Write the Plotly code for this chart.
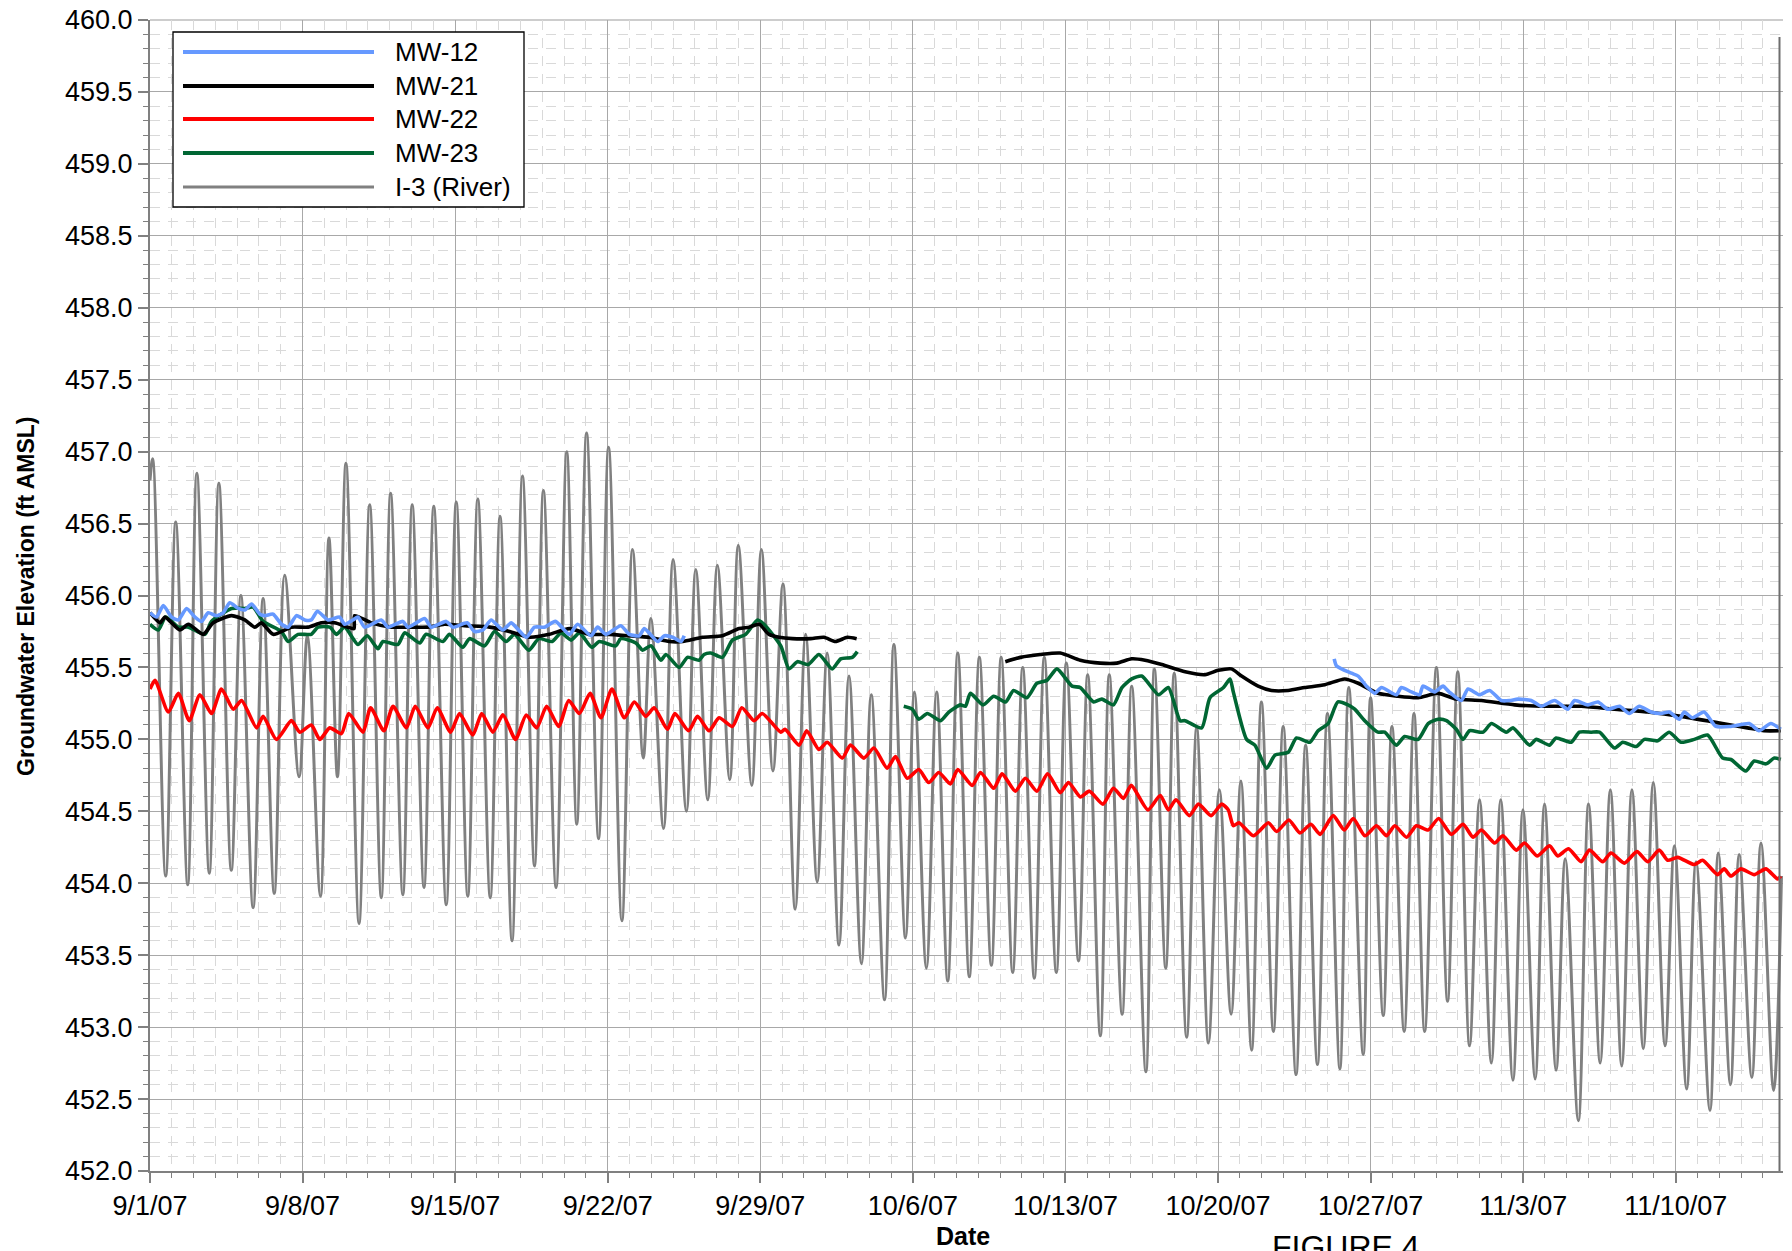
import plotly.graph_objects as go
from datetime import datetime, timedelta

BASE = datetime(2007, 9, 1)

# ---------------- data (days after 9/1/07, elevation ft AMSL) ----------------
river_day = [0.00, 0.12, 0.72, 1.18, 1.73, 2.15, 2.72, 3.16, 3.73, 4.17, 4.73, 5.19, 5.70, 6.18, 6.84, 7.22,
             7.82, 8.21, 8.60, 8.99, 9.59, 10.08, 10.61, 11.04, 11.60, 12.03, 12.57, 13.02, 13.59, 14.05,
             14.58, 15.04, 15.61, 16.06, 16.61, 17.09, 17.64, 18.05, 18.63, 19.12, 19.58, 20.03, 20.58,
             21.04, 21.65, 22.14, 22.63, 22.98, 23.56, 24.00, 24.61, 25.04, 25.59, 26.03, 26.60, 26.99,
             27.61, 28.05, 28.58, 29.04, 29.60, 30.08, 30.61, 31.07, 31.61, 32.07, 32.64, 33.09, 33.70,
             34.13, 34.66, 35.07, 35.62, 36.09, 36.60, 37.06, 37.59, 38.05, 38.60, 39.05, 39.58, 40.04,
             40.57, 41.03, 41.58, 42.04, 42.60, 43.02, 43.60, 44.01, 44.60, 45.04, 45.69, 46.08, 46.60,
             46.99, 47.56, 48.02, 48.56, 49.06, 49.60, 50.05, 50.54, 50.99, 51.54, 51.99, 52.58, 53.02,
             53.56, 54.02, 54.59, 55.00, 55.66, 56.00, 56.58, 56.98, 57.54, 57.99, 58.48, 59.02, 59.53,
             60.00, 60.54, 61.00, 61.54, 61.97, 62.53, 62.99, 63.55, 63.98, 64.51, 64.93, 65.53, 66.00,
             66.53, 67.00, 67.52, 67.99, 68.51, 68.97, 69.51, 69.94, 70.50, 70.93, 71.57, 71.95, 72.51,
             72.91, 73.49, 73.91, 74.49, 74.85]
river_elev = [456.80, 456.95, 454.05, 456.51, 453.99, 456.85, 454.07, 456.78, 454.09, 456.00, 453.83, 455.98,
              453.93, 456.14, 454.74, 455.72, 453.91, 456.40, 454.74, 456.92, 453.72, 456.63, 453.90, 456.71,
              453.92, 456.63, 453.97, 456.62, 453.85, 456.65, 453.91, 456.67, 453.90, 456.55, 453.60, 456.83,
              454.12, 456.73, 453.97, 457.00, 454.41, 457.13, 454.31, 457.03, 453.74, 456.32, 454.87, 455.84,
              454.38, 456.25, 454.50, 456.18, 454.58, 456.21, 454.72, 456.35, 454.68, 456.32, 454.78, 456.08,
              453.82, 455.73, 454.01, 455.60, 453.57, 455.44, 453.44, 455.31, 453.19, 455.66, 453.62, 455.33,
              453.41, 455.33, 453.32, 455.60, 453.35, 455.57, 453.43, 455.57, 453.38, 455.50, 453.34, 455.57,
              453.38, 455.53, 453.46, 455.45, 452.94, 455.45, 453.09, 455.37, 452.69, 455.49, 453.41, 455.46,
              452.93, 455.08, 452.89, 454.65, 453.09, 454.71, 452.84, 455.26, 452.97, 455.09, 452.67, 454.96,
              452.74, 455.18, 452.71, 455.36, 452.81, 455.29, 453.08, 455.09, 452.97, 455.18, 452.97, 455.50,
              453.18, 455.47, 452.87, 454.58, 452.75, 454.58, 452.63, 454.51, 452.64, 454.55, 452.70, 454.17,
              452.35, 454.55, 452.75, 454.65, 452.73, 454.65, 452.85, 454.70, 452.87, 454.26, 452.57, 454.15,
              452.42, 454.21, 452.60, 454.20, 452.65, 454.28, 452.56, 454.05]

mw12_day = [0.00, 0.30, 0.61, 0.99, 1.30, 1.68, 2.06, 2.37, 2.67, 3.05, 3.36, 3.66, 4.05, 4.35, 4.66, 5.04, 5.27,
            5.65, 6.03, 6.34, 6.72, 7.10, 7.40, 7.68, 8.17, 8.70, 8.93, 9.31, 9.54, 9.85, 10.61, 10.92, 11.60,
            11.83, 12.60, 12.90, 13.59, 13.90, 14.55, 14.89, 15.27, 15.65, 16.19, 16.57, 17.26, 17.64, 18.10,
            18.60, 19.24, 19.62, 20.23, 20.54, 20.92, 21.60, 21.99, 22.45, 22.68, 23.29, 23.60, 23.98, 24.36,
            24.51, None, 54.33, 54.44, 55.12, 55.43, 55.81, 56.19, 56.50, 57.18, 57.41, 57.87, 58.25, 58.40,
            58.94, 59.32, 59.60, 60.16, 60.47, 61.00, 61.46, 61.99, 62.38, 62.76, 63.37, 63.83, 64.44, 65.05,
            65.36, 65.97, 66.43, 66.88, 67.42, 67.87, 68.33, 68.86, 69.32, 69.70, 70.16, 70.39, 70.77, 71.30,
            71.84, 72.53, 73.37, 73.82, 74.36, 74.82]
mw12_elev = [455.88, 455.85, 455.93, 455.85, 455.83, 455.91, 455.85, 455.82, 455.88, 455.86, 455.88, 455.95,
             455.91, 455.90, 455.94, 455.87, 455.86, 455.87, 455.80, 455.78, 455.86, 455.83, 455.83, 455.89,
             455.83, 455.85, 455.80, 455.83, 455.85, 455.78, 455.83, 455.78, 455.82, 455.78, 455.84, 455.78,
             455.82, 455.78, 455.81, 455.75, 455.76, 455.83, 455.76, 455.81, 455.71, 455.78, 455.78, 455.82,
             455.73, 455.80, 455.72, 455.78, 455.73, 455.79, 455.73, 455.72, 455.77, 455.68, 455.72, 455.71,
             455.68, 455.72, None, 455.56, 455.51, 455.46, 455.44, 455.37, 455.32, 455.36, 455.31, 455.36,
             455.33, 455.31, 455.37, 455.33, 455.37, 455.33, 455.27, 455.35, 455.31, 455.34, 455.27, 455.27,
             455.28, 455.27, 455.23, 455.27, 455.21, 455.27, 455.24, 455.26, 455.21, 455.23, 455.18, 455.23,
             455.19, 455.18, 455.19, 455.14, 455.19, 455.15, 455.19, 455.09, 455.09, 455.11, 455.06, 455.11,
             455.07]

mw21_day = [0.00, 0.46, 0.69, 1.37, 1.76, 2.44, 2.90, 3.74, 4.35, 4.81, 5.11, 5.65, 6.49, 7.25, 7.86, 8.47, 9.08,
            9.36, 9.39, 10.15, 11.07, 11.99, 12.75, 13.51, 14.43, 15.58, 16.49, 17.41, 18.32, 19.24, 20.15,
            21.07, 21.99, 22.91, 23.82, 24.44, 25.35, 26.26, 27.03, 27.49, 27.95, 28.40, 28.86, 29.47, 30.31,
            30.92, 31.45, 31.99, 32.42, None, 39.24, 39.93, 40.84, 41.76, 42.68, 43.60, 44.36, 45.04, 45.65,
            46.42, 47.49, 48.40, 49.01, 49.62, 50.08, 50.84, 51.45, 52.22, 52.98, 53.90, 54.81, 55.43, 56.34,
            57.26, 58.18, 59.10, 59.93, 61.08, 62.61, 64.13, 65.66, 67.19, 68.71, 70.24, 71.77, 72.53, 73.29,
            74.05, 74.82]
mw21_elev = [455.88, 455.81, 455.85, 455.76, 455.80, 455.73, 455.81, 455.86, 455.83, 455.78, 455.81, 455.73,
             455.78, 455.78, 455.81, 455.81, 455.78, 455.77, 455.86, 455.81, 455.78, 455.78, 455.78, 455.80,
             455.79, 455.78, 455.75, 455.71, 455.73, 455.77, 455.73, 455.73, 455.72, 455.71, 455.68, 455.68,
             455.71, 455.72, 455.77, 455.78, 455.80, 455.73, 455.71, 455.70, 455.70, 455.71, 455.68, 455.71,
             455.70, None, 455.54, 455.57, 455.59, 455.60, 455.55, 455.53, 455.53, 455.56, 455.55, 455.52,
             455.47, 455.45, 455.48, 455.49, 455.44, 455.37, 455.34, 455.34, 455.36, 455.38, 455.42, 455.39,
             455.32, 455.30, 455.29, 455.32, 455.28, 455.27, 455.24, 455.23, 455.23, 455.21, 455.19, 455.16,
             455.12, 455.10, 455.08, 455.06, 455.06]

mw22_day = [0.00, 0.23, 0.84, 1.30, 1.80, 2.29, 2.82, 3.28, 3.82, 4.20, 4.89, 5.19, 5.80, 6.49, 6.87, 7.40, 7.79,
            8.25, 8.78, 9.12, 9.77, 10.12, 10.73, 11.15, 11.76, 12.17, 12.75, 13.18, 13.79, 14.20, 14.81, 15.22,
            15.73, 16.19, 16.77, 17.26, 17.74, 18.20, 18.75, 19.21, 19.70, 20.19, 20.69, 21.19, 21.76, 22.22,
            22.75, 23.13, 23.74, 24.08, 24.71, 25.12, 25.65, 26.11, 26.72, 27.15, 27.71, 28.09, 28.94, 29.13,
            29.78, 30.13, 30.69, 31.07, 31.76, 32.14, 32.75, 33.21, 33.82, 34.20, 34.74, 35.27, 35.73, 36.19,
            36.72, 37.06, 37.72, 38.10, 38.71, 39.09, 39.70, 40.16, 40.69, 41.18, 41.76, 42.14, 42.68, 43.10,
            43.72, 44.20, 44.66, 45.02, 45.78, 46.35, 46.72, 47.07, 47.68, 48.10, 48.68, 49.17, 49.47, 49.70,
            49.96, 50.62, 51.31, 51.69, 52.25, 52.76, 53.26, 53.68, 54.28, 54.79, 55.20, 55.74, 56.27, 56.73,
            57.11, 57.65, 58.10, 58.64, 59.12, 59.70, 60.24, 60.70, 61.08, 61.69, 62.07, 62.68, 63.06, 63.64,
            64.21, 64.59, 65.08, 65.66, 66.04, 66.65, 67.03, 67.64, 68.22, 68.71, 69.24, 69.63, 70.09, 70.85,
            71.23, 71.92, 72.22, 72.53, 72.99, 73.60, 74.14, 74.67, 74.82]
mw22_elev = [455.35, 455.41, 455.19, 455.32, 455.13, 455.31, 455.18, 455.35, 455.21, 455.27, 455.08, 455.16,
             455.00, 455.13, 455.05, 455.10, 455.00, 455.08, 455.04, 455.18, 455.05, 455.22, 455.06, 455.23,
             455.08, 455.23, 455.08, 455.22, 455.05, 455.18, 455.03, 455.18, 455.05, 455.17, 455.00, 455.17,
             455.08, 455.23, 455.09, 455.27, 455.18, 455.32, 455.15, 455.35, 455.15, 455.26, 455.16, 455.22,
             455.07, 455.18, 455.06, 455.16, 455.06, 455.15, 455.09, 455.22, 455.13, 455.18, 455.05, 455.07,
             454.96, 455.06, 454.93, 454.98, 454.87, 454.96, 454.87, 454.94, 454.80, 454.88, 454.73, 454.79,
             454.70, 454.77, 454.69, 454.79, 454.68, 454.77, 454.66, 454.76, 454.64, 454.73, 454.64, 454.76,
             454.63, 454.70, 454.60, 454.64, 454.55, 454.66, 454.59, 454.68, 454.51, 454.61, 454.51, 454.58,
             454.47, 454.55, 454.47, 454.55, 454.51, 454.40, 454.42, 454.33, 454.42, 454.36, 454.44, 454.35,
             454.41, 454.34, 454.47, 454.37, 454.45, 454.33, 454.40, 454.33, 454.40, 454.32, 454.40, 454.37,
             454.45, 454.34, 454.41, 454.32, 454.37, 454.28, 454.33, 454.23, 454.28, 454.19, 454.26, 454.19,
             454.24, 454.15, 454.23, 454.15, 454.21, 454.14, 454.22, 454.15, 454.23, 454.16, 454.18, 454.13,
             454.16, 454.06, 454.10, 454.05, 454.10, 454.06, 454.10, 454.03, 454.05]

mw23_day = [0.00, 0.38, 0.72, 1.30, 1.76, 2.52, 2.82, 3.74, 4.35, 4.73, 5.19, 6.03, 6.34, 6.79, 7.40, 7.71, 8.25,
            8.55, 8.93, 9.54, 9.97, 10.46, 10.69, 11.38, 11.68, 12.37, 12.67, 13.44, 13.74, 14.35, 14.66, 15.35,
            15.81, 16.34, 16.72, 17.38, 17.84, 18.45, 18.86, 19.32, 19.70, 20.27, 20.61, 21.37, 21.60, 22.29,
            22.60, 22.98, 23.44, 23.67, 24.28, 24.66, 25.19, 25.42, 25.73, 26.26, 26.72, 27.33, 27.87, 28.17,
            28.94, 29.32, 29.70, 30.20, 30.69, 31.30, 31.69, 32.22, 32.45, None, 34.58, 34.97, 35.27, 35.66,
            36.27, 36.65, 37.18, 37.41, 37.64, 38.22, 38.71, 39.25, 39.62, 40.23, 40.69, 41.15, 41.61, 42.30,
            42.68, 43.29, 43.67, 44.20, 44.59, 45.04, 45.50, 46.27, 46.72, 47.26, 47.49, 48.25, 48.63, 49.25,
            49.55, 49.70, 50.31, 50.69, 51.23, 51.61, 52.22, 52.60, 53.21, 53.59, 54.05, 54.50, 54.96, 55.27,
            55.73, 56.34, 56.65, 57.18, 57.56, 58.18, 58.64, 59.10, 59.48, 59.93, 60.24, 60.54, 61.16, 61.54,
            62.22, 62.53, 63.29, 63.60, 64.21, 64.51, 65.20, 65.58, 66.12, 66.50, 67.19, 67.57, 68.18, 68.56,
            69.17, 69.70, 70.24, 70.85, 71.46, 72.15, 72.53, 73.21, 73.60, 74.14, 74.52, 74.82]
mw23_elev = [455.80, 455.76, 455.85, 455.78, 455.78, 455.73, 455.82, 455.91, 455.91, 455.92, 455.82, 455.75,
             455.68, 455.73, 455.73, 455.78, 455.78, 455.73, 455.78, 455.66, 455.72, 455.63, 455.68, 455.66,
             455.74, 455.67, 455.73, 455.68, 455.73, 455.64, 455.70, 455.65, 455.75, 455.68, 455.73, 455.62,
             455.70, 455.68, 455.74, 455.69, 455.74, 455.64, 455.68, 455.65, 455.70, 455.67, 455.62, 455.65,
             455.55, 455.59, 455.50, 455.57, 455.55, 455.59, 455.60, 455.57, 455.69, 455.73, 455.83, 455.80,
             455.65, 455.49, 455.54, 455.52, 455.59, 455.49, 455.56, 455.57, 455.61, None, 455.23, 455.21,
             455.14, 455.18, 455.13, 455.19, 455.24, 455.23, 455.32, 455.24, 455.30, 455.26, 455.34, 455.29,
             455.39, 455.41, 455.49, 455.37, 455.36, 455.26, 455.28, 455.24, 455.36, 455.42, 455.44, 455.31,
             455.36, 455.13, 455.13, 455.08, 455.29, 455.36, 455.42, 455.33, 455.00, 454.96, 454.80, 454.89,
             454.91, 455.01, 454.98, 455.06, 455.11, 455.26, 455.24, 455.21, 455.13, 455.05, 455.05, 454.96,
             455.02, 455.00, 455.11, 455.14, 455.13, 455.07, 455.00, 455.06, 455.05, 455.11, 455.05, 455.08,
             454.96, 455.00, 454.96, 455.01, 454.98, 455.05, 455.05, 455.05, 454.94, 454.98, 454.95, 455.00,
             454.99, 455.05, 454.98, 455.00, 455.03, 454.87, 454.86, 454.78, 454.85, 454.83, 454.87, 454.86]

series_names = ["MW-12", "MW-21", "MW-22", "MW-23", "I-3 (River)"]
series_colors = ["#6699FF", "#000000", "#FF0000", "#006633", "#808080"]

tick_dates = ["2007-09-01", "2007-09-08", "2007-09-15", "2007-09-22", "2007-09-29", "2007-10-06",
              "2007-10-13", "2007-10-20", "2007-10-27", "2007-11-03", "2007-11-10"]
tick_text = ["9/1/07", "9/8/07", "9/15/07", "9/22/07", "9/29/07", "10/6/07",
             "10/13/07", "10/20/07", "10/27/07", "11/3/07", "11/10/07"]
y_ticks = [452.0, 452.5, 453.0, 453.5, 454.0, 454.5, 455.0, 455.5, 456.0,
           456.5, 457.0, 457.5, 458.0, 458.5, 459.0, 459.5, 460.0]


def to_dates(days):
    return [None if d is None else BASE + timedelta(days=d) for d in days]


# ---------------- geometry ----------------
# Target on-screen plot area: x 150..1783, y 20..1171. The page body adds an
# 8px offset, so figure coordinates are screen coordinates minus 8.
W, H = 1792, 1251
OFF = 8
SX0, SX1, SY0, SY1 = 150, 1783, 20, 1171
L, T = SX0 - OFF, SY0 - OFF
R = W - (SX1 - OFF)
B = H - (SY1 - OFF)
PW, PH = SX1 - SX0, SY1 - SY0
FONT = "Liberation Sans, Arial, sans-serif"


def px(x):  # screen px -> paper fraction
    return (x - SX0) / PW


def py(y):
    return (SY1 - y) / PH


fig = go.Figure()

series = [
    (river_day, river_elev, 4, 3.0, 1.0),
    (mw23_day, mw23_elev, 3, 3.6, 0.6),
    (mw22_day, mw22_elev, 2, 3.6, 0.6),
    (mw21_day, mw21_elev, 1, 3.6, 0.6),
    (mw12_day, mw12_elev, 0, 3.6, 0.6),
]
for days, vals, idx, w, sm in series:
    fig.add_trace(go.Scatter(
        x=to_dates(days), y=vals, mode="lines", name=series_names[idx],
        line=dict(color=series_colors[idx], width=w, shape="spline", smoothing=sm),
        connectgaps=False, showlegend=False, hoverinfo="skip"))

fig.update_layout(
    width=W, height=H,
    margin=dict(l=L, r=R, t=T, b=B, pad=0, autoexpand=False),
    paper_bgcolor="white", plot_bgcolor="white",
    showlegend=False,
    font=dict(family=FONT, size=27, color="black"),
)

fig.update_xaxes(
    type="date", automargin=False, ticklabeloverflow="allow",
    range=[BASE, BASE + timedelta(days=74.92)],
    tickmode="array", tickvals=tick_dates, ticktext=tick_text,
    ticks="outside", ticklen=10, tickwidth=1.5, tickcolor="#808080",
    tickfont=dict(family=FONT, size=27, color="black"),
    showline=True, linecolor="#808080", linewidth=2,
    showgrid=True, gridcolor="#a8a8a8", gridwidth=1,
    zeroline=False,
    minor=dict(tickmode="linear", tick0="2007-09-01", dtick=86400000,
               ticks="outside", ticklen=5, tickwidth=1.2, tickcolor="#808080",
               showgrid=True, gridcolor="#d9d9d9", gridwidth=1, griddash="10px,8px"),
)
fig.update_yaxes(
    automargin=False, ticklabeloverflow="allow",
    range=[452, 460],
    tickmode="array", tickvals=y_ticks, tickformat=".1f",
    ticks="outside", ticklen=10, tickwidth=1.5, tickcolor="#808080",
    tickfont=dict(family=FONT, size=27, color="black"),
    showline=True, linecolor="#808080", linewidth=2,
    showgrid=True, gridcolor="#a8a8a8", gridwidth=1,
    zeroline=False,
    minor=dict(tickmode="linear", tick0=452, dtick=0.1,
               ticks="outside", ticklen=5, tickwidth=1.2, tickcolor="#808080",
               showgrid=True, gridcolor="#d9d9d9", gridwidth=1, griddash="10px,8px"),
)

shapes = []
# top border (the 460.0 grid line) and right border line
shapes.append(dict(type="line", xref="paper", yref="paper", x0=0, x1=1, y0=1, y1=1,
                   line=dict(color="#bdbdbd", width=1.5), layer="below"))
shapes.append(dict(type="line", xref="paper", yref="paper", x0=px(1779.5), x1=px(1779.5),
                   y0=0, y1=py(37), line=dict(color="#6e6e6e", width=2), layer="above"))
# custom legend box
shapes.append(dict(type="rect", xref="paper", yref="paper", x0=px(173), x1=px(524), y0=py(207), y1=py(32),
                   line=dict(color="black", width=1.3), fillcolor="white", layer="above"))
rows = [52, 86, 119, 153, 187]
annotations = []
for i, (name, col) in enumerate(zip(series_names, series_colors)):
    shapes.append(dict(type="line", xref="paper", yref="paper", x0=px(183), x1=px(374),
                       y0=py(rows[i]), y1=py(rows[i]),
                       line=dict(color=col, width=4 if i < 4 else 3), layer="above"))
    annotations.append(dict(xref="paper", yref="paper", x=px(393), y=py(rows[i]), text=name,
                            showarrow=False, xanchor="left", yanchor="middle",
                            font=dict(family=FONT, size=26, color="black")))

annotations.append(dict(xref="paper", yref="paper", x=px(26), y=py(596),
                        text="<b>Groundwater Elevation (ft AMSL)</b>", textangle=-90,
                        showarrow=False, xanchor="center", yanchor="middle",
                        font=dict(family=FONT, size=23, color="black")))
annotations.append(dict(xref="paper", yref="paper", x=px(963), y=py(1236),
                        text="<b>Date</b>", showarrow=False, xanchor="center", yanchor="middle",
                        font=dict(family=FONT, size=25, color="black")))
annotations.append(dict(xref="paper", yref="paper", x=px(1346), y=py(1227),
                        text="FIGURE 4", showarrow=False, xanchor="center", yanchor="top",
                        font=dict(family=FONT, size=32, color="black")))

fig.update_layout(shapes=shapes, annotations=annotations)

fig.write_html("out.html")
